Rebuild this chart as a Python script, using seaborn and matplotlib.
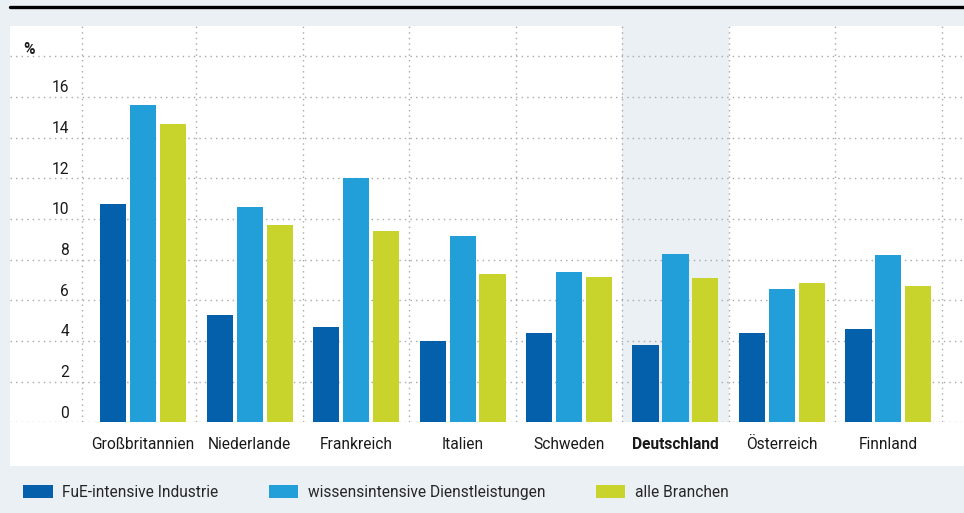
import pandas as pd
import seaborn as sns
import matplotlib.pyplot as plt
from matplotlib.lines import Line2D
from matplotlib.patches import Rectangle
import matplotlib.transforms as mtransforms

countries = ["Großbritannien", "Niederlande", "Frankreich", "Italien",
             "Schweden", "Deutschland", "Österreich", "Finnland"]
fue_industrie = [10.75, 5.28, 4.69, 4.00, 4.40, 3.81, 4.40, 4.60]
wissen_dienst = [15.62, 10.60, 12.03, 9.17, 7.40, 8.29, 6.56, 8.24]
alle_branchen = [14.69, 9.71, 9.42, 7.30, 7.16, 7.11, 6.86, 6.71]
series_names = ["FuE-intensive Industrie", "wissensintensive Dienstleistungen", "alle Branchen"]
y_ticks = [0, 2, 4, 6, 8, 10, 12, 14, 16]
highlight = "Deutschland"

colors = ["#0460aa", "#229ed8", "#c8d42c"]
bg = "#ebf0f5"

df = pd.DataFrame({
    "land": countries * 3,
    "wert": fue_industrie + wissen_dienst + alle_branchen,
    "serie": [series_names[0]] * 8 + [series_names[1]] * 8 + [series_names[2]] * 8,
})

sns.set_theme(style="white")
plt.rcParams["font.family"] = ["Roboto", "DejaVu Sans"]
fs = 11.2

W, H = 964, 513
fig = plt.figure(figsize=(W / 100, H / 100), dpi=100, facecolor=bg)

# white panel + black rule on top
fig.add_artist(Rectangle((10 / W, 1 - 466 / H), 1, (466 - 26) / H,
                         transform=fig.transFigure, facecolor="white", edgecolor="none", zorder=0))
fig.add_artist(Line2D([10 / W, 1], [1 - 6.7 / H] * 2, transform=fig.transFigure,
                      color="black", lw=2.4, solid_capstyle="round"))

ax = fig.add_axes([10 / W, 1 - 422.3 / H, 1 - 10 / W, (422.3 - 26) / H])
ax.set_facecolor("none")

ymax = 19.5
ax.set_ylim(0, ymax)
ax.set_xlim(-1.249, 7.709)

hi = countries.index(highlight)
ax.fill_between([hi - 0.5, hi + 0.5], 0, ymax, color=bg, lw=0, zorder=0)

dot = dict(color="#a8a8a8", lw=1, linestyle=(0, (1, 3)), zorder=1)
for v in y_ticks + [18]:
    ax.axhline(v, **dot)
for xv in [-0.573] + [i + 0.5 for i in range(len(countries))]:
    ax.vlines(xv, 0, ymax, **dot)

sns.barplot(data=df, x="land", y="wert", hue="serie", palette=colors,
            width=0.845, gap=0.133, saturation=1, linewidth=0, ax=ax, zorder=3)
ax.set_xlim(-1.249, 7.709)

handles, labels = ax.get_legend_handles_labels()
ax.get_legend().remove()

sns.despine(ax=ax, left=True, bottom=True)
ax.set_xlabel("")
ax.set_ylabel("")
ax.set_yticks([])
ax.tick_params(axis="x", length=0, pad=10.5, labelsize=fs, colors="#1a1a1a")
for lab in ax.get_xticklabels():
    if lab.get_text() == highlight:
        lab.set_fontweight("bold")

trans = mtransforms.blended_transform_factory(ax.transAxes, ax.transData)
for v in y_ticks:
    ax.text(59 / 954, v + 0.45, str(v), transform=trans, ha="right", va="center",
            fontsize=fs, color="#1a1a1a")
ax.text(13 / 954, 18.33, "%", transform=trans, ha="left", va="center",
        fontsize=fs, fontweight="bold", color="#1a1a1a")

fig.legend(handles, labels, loc="center left", bbox_to_anchor=(23 / W, 1 - 492.5 / H),
           ncol=3, frameon=False, fontsize=fs, handlelength=1.9, handleheight=0.9,
           handletextpad=0.6, columnspacing=3.25, borderpad=0, borderaxespad=0)

fig.savefig("out.png", dpi=100, facecolor=bg)
